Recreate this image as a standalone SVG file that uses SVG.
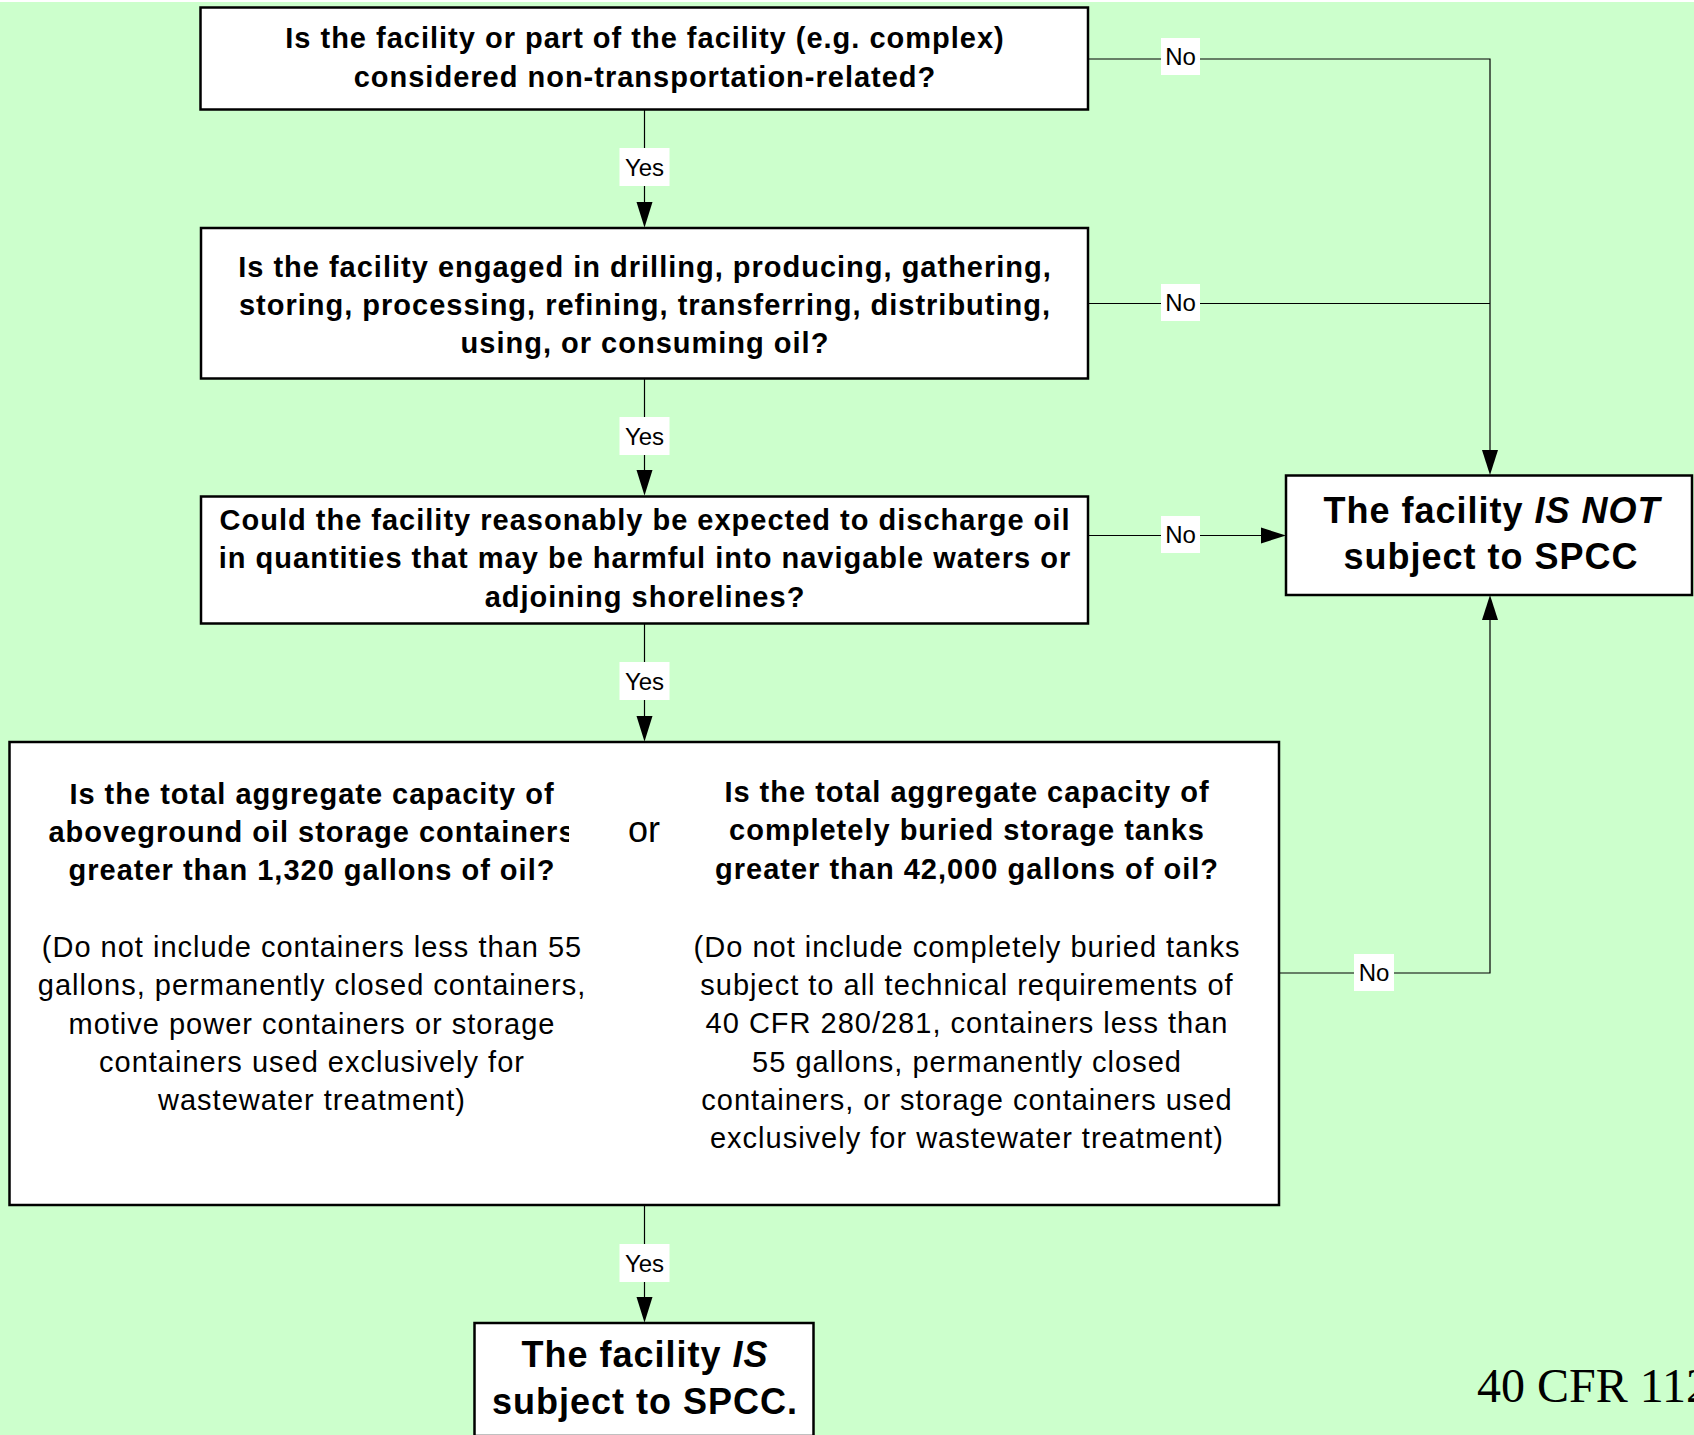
<svg xmlns="http://www.w3.org/2000/svg" width="1694" height="1435" viewBox="0 0 1694 1435">
<style>
.box{fill:#fff;stroke:#000;stroke-width:2.5}
.q{font-family:"Liberation Sans",Arial,sans-serif;font-weight:bold;font-size:29px;letter-spacing:1px;text-anchor:middle;fill:#000}
.n{font-family:"Liberation Sans",Arial,sans-serif;font-size:29px;letter-spacing:1px;text-anchor:middle;fill:#000}
.big{font-family:"Liberation Sans",Arial,sans-serif;font-weight:bold;font-size:36px;letter-spacing:1px;text-anchor:middle;fill:#000}
.or{font-family:"Liberation Sans",Arial,sans-serif;font-size:36px;text-anchor:middle;fill:#000}
.ln{fill:none;stroke:#000;stroke-width:1.2}
.lb{fill:#fff;stroke:none}
.lt{font-family:"Liberation Sans",Arial,sans-serif;font-size:24px;text-anchor:middle;fill:#000}
.ah{fill:#000;stroke:none}
</style>
<defs>
<clipPath id="clipL"><rect x="0" y="700" width="569" height="500"/></clipPath>
</defs>
<rect x="0" y="0" width="1694" height="1435" fill="#fff"/>
<rect x="0" y="2" width="1694" height="1433" fill="#ccffcc"/>

<g id="connectors">
  <!-- Yes connectors -->
  <line class="ln" x1="644.5" y1="110" x2="644.5" y2="204"/>
  <polygon class="ah" points="636.5,202 652.5,202 644.5,227.5"/>
  <rect class="lb" x="619.5" y="148" width="50" height="38"/>
  <text class="lt" x="644.5" y="176">Yes</text>

  <line class="ln" x1="644.5" y1="378" x2="644.5" y2="472"/>
  <polygon class="ah" points="636.5,470 652.5,470 644.5,495.5"/>
  <rect class="lb" x="619.5" y="417" width="50" height="38"/>
  <text class="lt" x="644.5" y="445">Yes</text>

  <line class="ln" x1="644.5" y1="623" x2="644.5" y2="718"/>
  <polygon class="ah" points="636.5,716 652.5,716 644.5,741.5"/>
  <rect class="lb" x="619.5" y="662" width="50" height="38"/>
  <text class="lt" x="644.5" y="690">Yes</text>

  <line class="ln" x1="644.5" y1="1205" x2="644.5" y2="1299"/>
  <polygon class="ah" points="636.5,1297 652.5,1297 644.5,1322.5"/>
  <rect class="lb" x="619.5" y="1244" width="50" height="38"/>
  <text class="lt" x="644.5" y="1272">Yes</text>

  <!-- No connectors -->
  <polyline class="ln" points="1088,59 1490,59 1490,452"/>
  <polygon class="ah" points="1482,450 1498,450 1490,475"/>
  <rect class="lb" x="1161" y="38" width="39" height="37"/>
  <text class="lt" x="1180.5" y="65">No</text>

  <line class="ln" x1="1088" y1="303.5" x2="1490" y2="303.5"/>
  <rect class="lb" x="1161" y="284" width="39" height="37"/>
  <text class="lt" x="1180.5" y="311">No</text>

  <line class="ln" x1="1088" y1="535.5" x2="1264" y2="535.5"/>
  <polygon class="ah" points="1261,527.5 1261,543.5 1286,535.5"/>
  <rect class="lb" x="1161" y="516" width="39" height="37"/>
  <text class="lt" x="1180.5" y="543">No</text>

  <polyline class="ln" points="1279,973 1490,973 1490,617"/>
  <polygon class="ah" points="1482,620 1498,620 1490,595"/>
  <rect class="lb" x="1354" y="954" width="40" height="37"/>
  <text class="lt" x="1374" y="981">No</text>
</g>

<g id="q1">
  <rect class="box" x="200.5" y="7.5" width="887.5" height="102"/>
  <text class="q" x="645" y="47.5">Is the facility or part of the facility (e.g. complex)</text>
  <text class="q" x="645" y="86.5">considered non-transportation-related?</text>
</g>

<g id="q2">
  <rect class="box" x="201" y="228" width="887" height="150.5"/>
  <text class="q" x="645" y="276.5">Is the facility engaged in drilling, producing, gathering,</text>
  <text class="q" x="645" y="314.5">storing, processing, refining, transferring, distributing,</text>
  <text class="q" x="645" y="352.5">using, or consuming oil?</text>
</g>

<g id="q3">
  <rect class="box" x="201" y="496.5" width="887" height="127"/>
  <text class="q" x="645" y="529.5">Could the facility reasonably be expected to discharge oil</text>
  <text class="q" x="645" y="568">in quantities that may be harmful into navigable waters or</text>
  <text class="q" x="645" y="606.5">adjoining shorelines?</text>
</g>

<g id="q4">
  <rect class="box" x="9.5" y="742" width="1269.5" height="463"/>
  <text class="q" x="312" y="804">Is the total aggregate capacity of</text>
  <text class="q" x="312" y="842" clip-path="url(#clipL)">aboveground oil storage containers</text>
  <text class="q" x="312" y="880">greater than 1,320 gallons of oil?</text>
  <text class="n" x="312" y="957">(Do not include containers less than 55</text>
  <text class="n" x="312" y="995">gallons, permanently closed containers,</text>
  <text class="n" x="312" y="1034">motive power containers or storage</text>
  <text class="n" x="312" y="1072">containers used exclusively for</text>
  <text class="n" x="312" y="1110">wastewater treatment)</text>
  <text class="or" x="644" y="842">or</text>
  <text class="q" x="967" y="802">Is the total aggregate capacity of</text>
  <text class="q" x="967" y="840">completely buried storage tanks</text>
  <text class="q" x="967" y="879">greater than 42,000 gallons of oil?</text>
  <text class="n" x="967" y="957">(Do not include completely buried tanks</text>
  <text class="n" x="967" y="995">subject to all technical requirements of</text>
  <text class="n" x="967" y="1033">40 CFR 280/281, containers less than</text>
  <text class="n" x="967" y="1072">55 gallons, permanently closed</text>
  <text class="n" x="967" y="1110">containers, or storage containers used</text>
  <text class="n" x="967" y="1148">exclusively for wastewater treatment)</text>
</g>

<g id="not-subject">
  <rect class="box" x="1286" y="475.5" width="406" height="119.5"/>
  <text class="big" x="1492" y="523">The facility <tspan font-style="italic">IS NOT</tspan></text>
  <text class="big" x="1491" y="569">subject to SPCC</text>
</g>

<g id="subject">
  <rect class="box" x="474.5" y="1323" width="339" height="113"/>
  <text class="big" x="645" y="1367">The facility <tspan font-style="italic">IS</tspan></text>
  <text class="big" x="645" y="1414">subject to SPCC.</text>
</g>

<text x="1477" y="1402" font-family="'Liberation Serif','Times New Roman',serif" font-size="48" fill="#000">40 CFR 112</text>
</svg>
